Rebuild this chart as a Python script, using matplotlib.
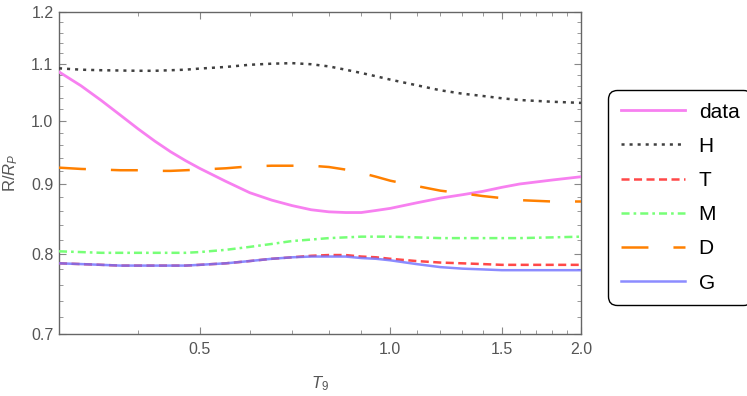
import matplotlib
matplotlib.use("Agg")
import matplotlib.pyplot as plt
from matplotlib.ticker import FixedLocator, NullFormatter, FixedFormatter

plt.rcParams['font.family'] = ['Liberation Sans', 'DejaVu Sans']
plt.rcParams['lines.scale_dashes'] = False
plt.rcParams['mathtext.fontset'] = 'custom'
plt.rcParams['mathtext.it'] = 'Liberation Sans:italic'
plt.rcParams['mathtext.rm'] = 'Liberation Sans'

T9 = [0.30, 0.325, 0.35, 0.375, 0.40, 0.425, 0.45, 0.475, 0.50, 0.55, 0.60,
      0.65, 0.70, 0.75, 0.80, 0.85, 0.90, 0.95, 1.00, 1.10, 1.20, 1.30, 1.40,
      1.50, 1.60, 1.80, 2.00]

data = [1.086, 1.061, 1.035, 1.010, 0.987, 0.967, 0.950, 0.936, 0.924, 0.904,
        0.887, 0.876, 0.868, 0.862, 0.859, 0.858, 0.858, 0.861, 0.864, 0.872,
        0.879, 0.884, 0.889, 0.895, 0.900, 0.906, 0.911]
H = [1.0925, 1.090, 1.089, 1.0885, 1.088, 1.088, 1.089, 1.090, 1.092, 1.095,
     1.099, 1.101, 1.102, 1.100, 1.096, 1.090, 1.084, 1.078, 1.072, 1.062,
     1.053, 1.047, 1.043, 1.039, 1.036, 1.033, 1.031]
T = [0.788, 0.787, 0.786, 0.785, 0.785, 0.785, 0.785, 0.785, 0.786, 0.788,
     0.791, 0.794, 0.796, 0.798, 0.799, 0.799, 0.797, 0.796, 0.794, 0.791,
     0.789, 0.788, 0.787, 0.786, 0.786, 0.786, 0.786]
M = [0.804, 0.803, 0.802, 0.802, 0.802, 0.802, 0.802, 0.802, 0.803, 0.806,
     0.810, 0.814, 0.818, 0.820, 0.822, 0.823, 0.824, 0.824, 0.824, 0.823,
     0.822, 0.822, 0.822, 0.822, 0.822, 0.823, 0.824]
D = [0.925, 0.923, 0.922, 0.921, 0.921, 0.920, 0.920, 0.921, 0.922, 0.924,
     0.927, 0.928, 0.928, 0.928, 0.926, 0.922, 0.917, 0.911, 0.905, 0.897,
     0.890, 0.886, 0.882, 0.879, 0.876, 0.874, 0.874]
G = [0.788, 0.787, 0.786, 0.785, 0.785, 0.785, 0.785, 0.785, 0.786, 0.788,
     0.791, 0.794, 0.796, 0.797, 0.797, 0.797, 0.795, 0.794, 0.792, 0.787,
     0.783, 0.781, 0.780, 0.779, 0.779, 0.779, 0.779]

xticks = [0.5, 1.0, 1.5, 2.0]
xticklabels = ["0.5", "1.0", "1.5", "2.0"]
yticks = [0.7, 0.8, 0.9, 1.0, 1.1, 1.2]
yticklabels = ["0.7", "0.8", "0.9", "1.0", "1.1", "1.2"]
xminor = [0.4, 0.6, 0.7, 0.8, 0.9, 1.1, 1.2, 1.3, 1.4, 1.6, 1.7, 1.8, 1.9]
yminor = [0.72, 0.74, 0.76, 0.78, 0.82, 0.84, 0.86, 0.88, 0.92, 0.94, 0.96,
          0.98, 1.02, 1.04, 1.06, 1.08, 1.12, 1.14, 1.16, 1.18]

fig = plt.figure(figsize=(7.47, 3.96), dpi=100)
ax = fig.add_axes([59/747, 1-334/396, (581-59)/747, (334-12.3)/396])

kw = dict(solid_joinstyle='round', dash_joinstyle='round')
ax.plot(T9, data, color='#F780F0', lw=2.0, label='data', zorder=3, **kw)
ax.plot(T9, H, color='#404040', lw=1.8, linestyle=(0, (2.2, 3.6)), label='H', zorder=3, **kw)
ax.plot(T9, T, color='#FF4848', lw=1.8, linestyle=(0, (5.8, 3.2)), label='T', zorder=3, **kw)
ax.plot(T9, M, color='#77FF77', lw=1.8, linestyle=(0, (5.8, 2.9, 1.9, 2.9)), label='M', zorder=3, **kw)
ax.plot(T9, D, color='#FF8000', lw=1.8, linestyle=(0, (19.4, 18.0)), label='D', zorder=3, **kw)
ax.plot(T9, G, color='#6F6FFF', lw=1.8, alpha=0.8, label='G', zorder=4, **kw)

ax.set_xscale('log')
ax.set_yscale('log')
ax.set_xlim(0.3, 2.0)
ax.set_ylim(0.7, 1.2)

ax.xaxis.set_major_locator(FixedLocator(xticks))
ax.xaxis.set_major_formatter(FixedFormatter(xticklabels))
ax.xaxis.set_minor_locator(FixedLocator(xminor))
ax.xaxis.set_minor_formatter(NullFormatter())
ax.yaxis.set_major_locator(FixedLocator(yticks))
ax.yaxis.set_major_formatter(FixedFormatter(yticklabels))
ax.yaxis.set_minor_locator(FixedLocator(yminor))
ax.yaxis.set_minor_formatter(NullFormatter())

for s in ax.spines.values():
    s.set_color('#666666')
    s.set_linewidth(1.0)
ax.tick_params(which='both', direction='in', top=True, right=True,
               colors='#888888', labelcolor='#555555', labelsize=11.5)
ax.tick_params(which='major', length=5, width=0.8)
ax.tick_params(axis='x', which='major', pad=6)
ax.tick_params(axis='y', which='major', pad=4)
ax.tick_params(which='minor', length=3, width=0.6)

ax.set_xlabel('$T_9$', color='#555555', fontsize=12, labelpad=12)
ax.set_ylabel('R/$R_P$', color='#555555', fontsize=12, labelpad=8)

leg = ax.legend(loc='upper left', bbox_to_anchor=(608/747, 1-90/396),
                bbox_transform=fig.transFigure, frameon=True, fancybox=True,
                fontsize=15, handlelength=3.1, handletextpad=0.65,
                labelspacing=0.73, borderpad=0.6, borderaxespad=0)
leg.get_frame().set_edgecolor('black')
leg.get_frame().set_linewidth(1.0)
leg.get_frame().set_alpha(1.0)
leg.get_frame().set_boxstyle('round,pad=0,rounding_size=0.45')

fig.savefig('out.png', dpi=100)
